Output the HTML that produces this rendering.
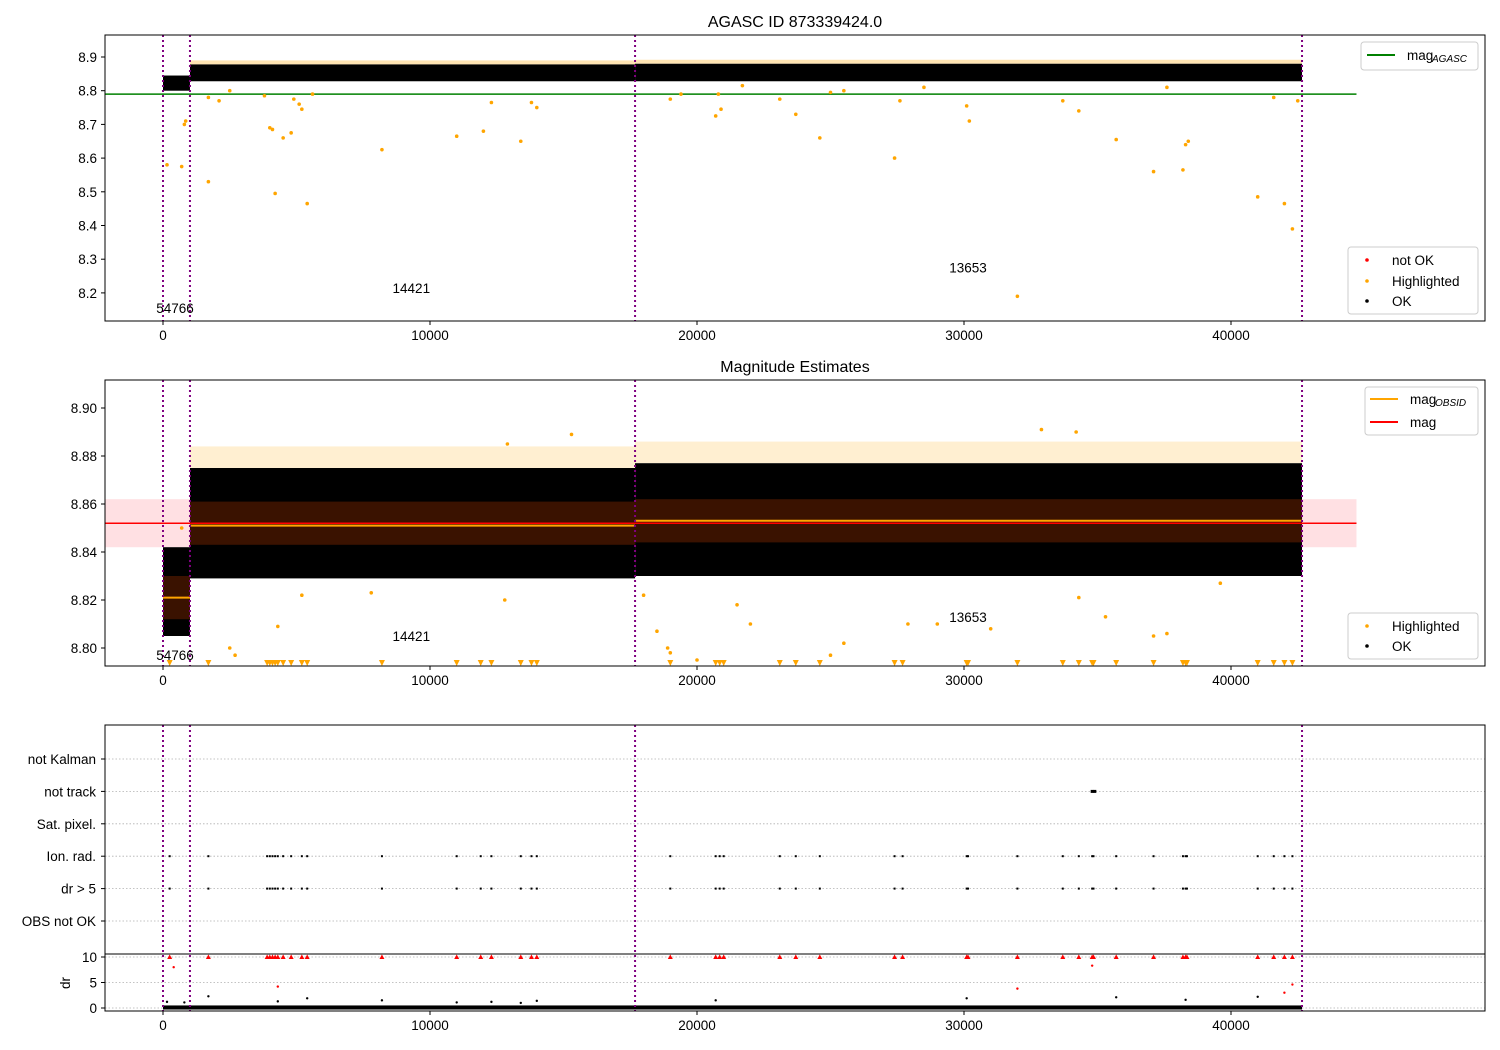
<!DOCTYPE html>
<html><head><meta charset="utf-8"><style>
body{margin:0;background:#fff}
svg{display:block;font-family:"Liberation Sans","DejaVu Sans",sans-serif}
text{fill:#000}
</style></head><body>
<svg id="chart" width="1500" height="1050" viewBox="0 0 1500 1050">
<defs>
<clipPath id="c1"><rect x="105" y="35" width="1380" height="286"/></clipPath>
<clipPath id="c2"><rect x="105" y="380" width="1380" height="286"/></clipPath>
<clipPath id="c3"><rect x="105" y="725" width="1380" height="229"/></clipPath>
<clipPath id="c4"><rect x="105" y="954" width="1380" height="57"/></clipPath>
</defs>
<g id="g1"></g>
<g id="g2"></g>
<g id="g3"></g>
<g id="g4"></g>
<g id="ax"></g>
</svg>
<script>
// ---- data ----
const xTicks=[0,10000,20000,30000,40000];
const y1Ticks=[8.2,8.3,8.4,8.5,8.6,8.7,8.8,8.9];
const y2Ticks=[8.80,8.82,8.84,8.86,8.88,8.90];
const catLabels=["OBS not OK","dr > 5","Ion. rad.","Sat. pixel.","not track","not Kalman"];
const drTicks=[0,5,10];
const boundaries=[0,1010,17680,42660];
const agascMag=8.79;
const meanMag=8.852, magStd=0.010;
const segStart=[0,1010,17680];
const segEnd=[1010,17680,42660];
const segMag=[8.821,8.851,8.853];
const segLow1=[8.800,8.828,8.828];
const segHigh1=[8.845,8.878,8.880];
const segLow2=[8.805,8.829,8.830];
const segHigh2=[8.842,8.875,8.877];
const segCoreLow=[8.812,8.843,8.844];
const segCoreHigh=[8.830,8.861,8.862];
const segCounts=["54766","14421","13653"];
const segLabelX=[450,9300,30150];
const segLabelY1=[8.155,8.215,8.275];
const segLabelY2=[8.797,8.805,8.813];
const hl1X=[150,700,800,850,1700,1700,2100,2500,3800,4000,4100,4200,4500,4800,4900,5100,5200,5400,5600,8200,11000,12000,12300,13400,13800,14000,19000,19400,20700,20800,20900,21700,23100,23700,24600,25000,25500,27400,27600,28500,30100,30200,32000,33700,34300,35700,37100,37600,38200,38300,38400,41000,41600,42000,42300,42500];
const hl1Y=[8.58,8.575,8.70,8.71,8.53,8.78,8.77,8.80,8.785,8.69,8.685,8.495,8.66,8.675,8.775,8.76,8.745,8.465,8.79,8.625,8.665,8.68,8.765,8.65,8.765,8.75,8.775,8.79,8.725,8.79,8.745,8.815,8.775,8.73,8.66,8.795,8.80,8.60,8.77,8.81,8.755,8.71,8.19,8.77,8.74,8.655,8.56,8.81,8.565,8.64,8.65,8.485,8.78,8.465,8.39,8.77];
const hl2X=[700,2500,2700,4300,5200,7800,12800,18000,18500,18900,19000,20000,21500,22000,25000,25500,27900,29000,31000,34300,35300,37100,37600,39600,15300,32900,12900,34200];
const hl2Y=[8.85,8.80,8.797,8.809,8.822,8.823,8.82,8.822,8.807,8.80,8.798,8.795,8.818,8.81,8.797,8.802,8.81,8.81,8.808,8.821,8.813,8.805,8.806,8.827,8.889,8.891,8.885,8.89];
const flagX=[250,1700,3900,4000,4100,4200,4300,4500,4800,5200,5400,8200,11000,11900,12300,13400,13800,14000,19000,20700,20850,21000,23100,23700,24600,27400,27700,30100,30150,32000,33700,34300,34800,34850,35700,37100,38200,38300,38350,41000,41600,42000,42300];
const drSmallX=[150,800,1700,4300,5400,8200,11000,12300,13400,14000,20700,30100,35700,38300,41000];
const drSmallY=[1.2,1.1,2.3,1.3,1.9,1.5,1.1,1.2,1.0,1.4,1.5,1.9,2.1,1.6,2.2];
const drRedX=[400,4300,32000,34800,42000,42300];
const drRedY=[8.0,4.2,3.8,8.3,3.0,4.6];
const notTrackX=[34800,34900];
// ---- scales ----
const X=v=>163+v*0.0267;
const Y1=m=>57+(8.9-m)*337;
const Y2=m=>408+(8.9-m)*2400;
const Y3=i=>921-i*32.4;
const Yd=d=>1008-d*5.1;
const NS="http://www.w3.org/2000/svg";
function mk(parent,tag,attrs,txt){const e=document.createElementNS(NS,tag);for(const k in attrs)e.setAttribute(k,attrs[k]);if(txt!==undefined)e.textContent=txt;parent.appendChild(e);return e;}
const g1=document.getElementById('g1'),g2=document.getElementById('g2'),g3=document.getElementById('g3'),g4=document.getElementById('g4'),ax=document.getElementById('ax');
g1.setAttribute('clip-path','url(#c1)');g2.setAttribute('clip-path','url(#c2)');g3.setAttribute('clip-path','url(#c3)');g4.setAttribute('clip-path','url(#c4)');

// Panel 1
let e;
e=mk(g1,'line',{x1:X(-2200),x2:X(44700),y1:Y1(agascMag),y2:Y1(agascMag),stroke:'#008000','stroke-width':1.5});


for(let i=0;i<3;i++){
 e=mk(g1,'rect',{x:X(segStart[i]),y:Y1(segHigh1[i])-4,width:X(segEnd[i])-X(segStart[i]),height:4,fill:'orange',opacity:i?0.3:0});
 
 
 e=mk(g1,'rect',{x:X(segStart[i]),y:Y1(segHigh1[i]),width:X(segEnd[i])-X(segStart[i]),height:Y1(segLow1[i])-Y1(segHigh1[i]),fill:'#000'});
 
 
}
hl1X.forEach((v,i)=>{e=mk(g1,'circle',{cx:X(v),cy:Y1(hl1Y[i]),r:1.8,fill:'orange'});
 
 });
// Panel 2
e=mk(g2,'rect',{x:X(-2200),y:Y2(meanMag+magStd),width:X(44700)-X(-2200),height:Y2(meanMag-magStd)-Y2(meanMag+magStd),fill:'#ffd8dc',opacity:0.8});


for(let i=0;i<3;i++){
 const x0=X(segStart[i]),w=X(segEnd[i])-x0;
 e=mk(g2,'rect',{x:x0,y:Y2(segHigh2[i]+0.009),width:w,height:Y2(segHigh2[i])-Y2(segHigh2[i]+0.009),fill:'orange',opacity:i?0.18:0});
 
 
 e=mk(g2,'rect',{x:x0,y:Y2(segHigh2[i]),width:w,height:Y2(segLow2[i])-Y2(segHigh2[i]),fill:'#000'});
 
 
 e=mk(g2,'rect',{x:x0,y:Y2(segCoreHigh[i]),width:w,height:Y2(segCoreLow[i])-Y2(segCoreHigh[i]),fill:'#3a1200'});
 
 
 e=mk(g2,'line',{x1:x0,x2:x0+w,y1:Y2(segMag[i]),y2:Y2(segMag[i]),stroke:'orange','stroke-width':2});
 
 
}
e=mk(g2,'line',{x1:X(-2200),x2:X(44700),y1:Y2(meanMag),y2:Y2(meanMag),stroke:'red','stroke-width':1.5});


hl2X.forEach((v,i)=>{e=mk(g2,'circle',{cx:X(v),cy:Y2(hl2Y[i]),r:1.8,fill:'orange'});
 
 });
flagX.forEach(v=>{const x=X(v);e=mk(g2,'path',{d:`M${x-3},660 L${x+3},660 L${x},666 Z`,fill:'orange'});
 
 });
// Panel 3
catLabels.forEach((c,i)=>{e=mk(g3,'line',{x1:105,x2:1485,y1:Y3(i),y2:Y3(i),stroke:'#b0b0b0','stroke-dasharray':'1.5,2','stroke-width':0.8});
 
 });
flagX.forEach(v=>{[1,2].forEach(r=>{e=mk(g3,'rect',{x:X(v)-1,y:Y3(r)-1,width:2,height:2,fill:'#000'});
 
 });});
notTrackX.forEach(v=>{e=mk(g3,'rect',{x:X(v)-1.5,y:Y3(4)-1.5,width:3,height:3,fill:'#000'});
 
 });
// Panel 4 dr
drTicks.forEach(d=>{e=mk(g4,'line',{x1:105,x2:1485,y1:Yd(d),y2:Yd(d),stroke:'#b0b0b0','stroke-dasharray':'1.5,2','stroke-width':0.8});
 
 });
e=mk(g4,'rect',{x:X(0),y:Yd(0.5),width:X(42660)-X(0),height:Yd(-0.3)-Yd(0.5),fill:'#000'});


drSmallX.forEach((v,i)=>{e=mk(g4,'circle',{cx:X(v),cy:Yd(drSmallY[i]),r:1.2,fill:'#000'});
 
 });
flagX.forEach(v=>{const x=X(v),y=Yd(10);e=mk(g4,'path',{d:`M${x-2.5},${y+2} L${x+2.5},${y+2} L${x},${y-2.5} Z`,fill:'red'});
 
 });
drRedX.forEach((v,i)=>{e=mk(g4,'circle',{cx:X(v),cy:Yd(drRedY[i]),r:1.2,fill:'red'});
 
 });

// boundaries
[[35,321],[380,666],[725,1011]].forEach(([t,b])=>{boundaries.forEach(v=>{e=mk(ax,'line',{x1:X(v),x2:X(v),y1:t,y2:b,stroke:'#800080','stroke-width':2,'stroke-dasharray':'2,3'});
 
 });});
// segment labels
segCounts.forEach((c,i)=>{[[Y1(segLabelY1[i])],[Y2(segLabelY2[i])]].forEach(([y])=>{e=mk(ax,'text',{x:X(segLabelX[i]),y:y+5,'font-size':13.5,'text-anchor':'middle'},c);
 
 });});
// frames
[[35,286],[380,286],[725,229],[954,57]].forEach(([t,h])=>{e=mk(ax,'rect',{x:105,y:t,width:1380,height:h,fill:'none',stroke:'#000','stroke-width':1});
 
 });
// x ticks
[321,666,1011].forEach(b=>{xTicks.forEach(v=>{mk(ax,'line',{x1:X(v),x2:X(v),y1:b,y2:b+4,stroke:'#000'});
 e=mk(ax,'text',{x:X(v),y:b+19,'font-size':13.5,'text-anchor':'middle'},String(v));
 
 });});
y1Ticks.forEach(v=>{mk(ax,'line',{x1:101,x2:105,y1:Y1(v),y2:Y1(v),stroke:'#000'});
 e=mk(ax,'text',{x:97,y:Y1(v)+5,'font-size':13.5,'text-anchor':'end'},v.toFixed(1));
 
 });
y2Ticks.forEach(v=>{mk(ax,'line',{x1:101,x2:105,y1:Y2(v),y2:Y2(v),stroke:'#000'});
 e=mk(ax,'text',{x:97,y:Y2(v)+5,'font-size':13.5,'text-anchor':'end'},v.toFixed(2));
 
 });
catLabels.forEach((c,i)=>{mk(ax,'line',{x1:101,x2:105,y1:Y3(i),y2:Y3(i),stroke:'#000'});
 e=mk(ax,'text',{x:96,y:Y3(i)+5,'font-size':13.5,'text-anchor':'end'},c);
 
 });
drTicks.forEach(d=>{mk(ax,'line',{x1:101,x2:105,y1:Yd(d),y2:Yd(d),stroke:'#000'});
 e=mk(ax,'text',{x:97,y:Yd(d)+5,'font-size':13.5,'text-anchor':'end'},String(d));
 
 });
e=mk(ax,'text',{x:70,y:983,'font-size':13.5,'text-anchor':'middle',transform:'rotate(-90 70 983)'},'dr');


e=mk(ax,'text',{x:795,y:27,'font-size':16,'text-anchor':'middle'},'AGASC ID 873339424.0');


e=mk(ax,'text',{x:795,y:372,'font-size':16,'text-anchor':'middle'},'Magnitude Estimates');


// legends
function legBox(x,y,w,h){const r=mk(ax,'rect',{x:x,y:y,width:w,height:h,fill:'#fff',stroke:'#ccc',rx:3});return r;}
e=legBox(1361,42,117,28);
mk(ax,'line',{x1:1367,x2:1395,y1:55,y2:55,stroke:'#008000','stroke-width':2});
e=mk(ax,'text',{x:1407,y:60,'font-size':13.5},'mag');
mk(ax,'text',{x:1432,y:62,'font-size':10,'font-style':'italic'},'AGASC');
e=legBox(1348,247,130,67);
[['not OK','red',260],['Highlighted','orange',281],['OK','#000',301]].forEach(([t,c,y])=>{mk(ax,'circle',{cx:1367,cy:y,r:1.8,fill:c});
 e=mk(ax,'text',{x:1392,y:y+5,'font-size':13.5},t);});
e=legBox(1365,387,113,48);
mk(ax,'line',{x1:1370,x2:1398,y1:399,y2:399,stroke:'orange','stroke-width':2});
mk(ax,'text',{x:1410,y:404,'font-size':13.5},'mag');
mk(ax,'text',{x:1435,y:406,'font-size':10,'font-style':'italic'},'OBSID');
mk(ax,'line',{x1:1370,x2:1398,y1:422,y2:422,stroke:'red','stroke-width':2});
e=mk(ax,'text',{x:1410,y:427,'font-size':13.5},'mag');
e=legBox(1348,613,130,46);
[['Highlighted','orange',626],['OK','#000',646]].forEach(([t,c,y])=>{mk(ax,'circle',{cx:1367,cy:y,r:1.8,fill:c});
 e=mk(ax,'text',{x:1392,y:y+5,'font-size':13.5},t);});
</script>
</body></html>
